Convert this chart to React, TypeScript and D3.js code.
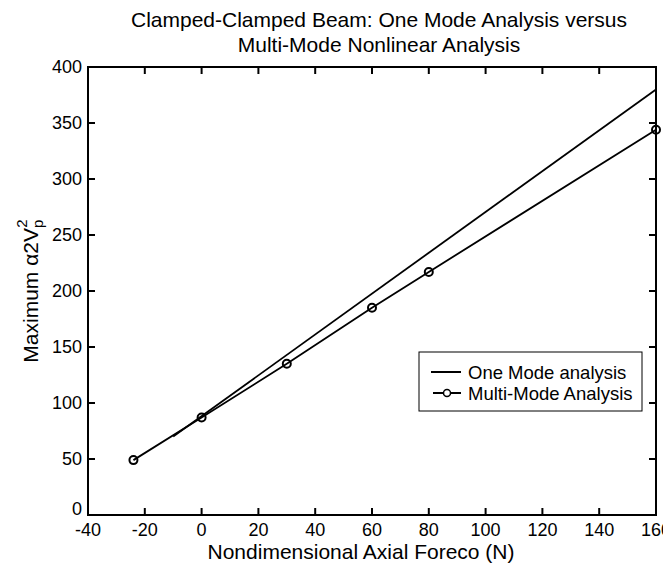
import * as React from "react";
import { useRef, useEffect } from "react";
import * as d3 from "d3";

const oneModeX = [-10, 160];
const oneModeY = [70, 380];
const multiModeX = [-24, 0, 30, 60, 80, 160];
const multiModeY = [49, 87, 135, 185, 217, 344];
const xTicks = [-40, -20, 0, 20, 40, 60, 80, 100, 120, 140, 160];
const yTicks = [0, 50, 100, 150, 200, 250, 300, 350, 400];

export default function App() {
  const svgRef = useRef<SVGSVGElement>(null);

  useEffect(() => {
    const W = 671;
    const H = 568;
    const margin = { top: 67, right: 15, bottom: 53, left: 88 };
    const width = W - margin.left - margin.right;
    const height = H - margin.top - margin.bottom;
    const font = "Liberation Sans, Arial, sans-serif";

    const svg = d3.select(svgRef.current).attr("width", W).attr("height", H);
    svg.selectAll("*").remove();
    svg.append("rect").attr("width", W).attr("height", H).attr("fill", "#fff");

    const g = svg
      .append("g")
      .attr("transform", `translate(${margin.left},${margin.top})`);

    const x = d3.scaleLinear().domain([-40, 160]).range([0, width]);
    const y = d3.scaleLinear().domain([0, 400]).range([height, 0]);

    // frame
    g.append("rect")
      .attr("width", width)
      .attr("height", height)
      .attr("fill", "none")
      .attr("stroke", "#000")
      .attr("stroke-width", 2);

    const tickLen = 7;
    // ticks point inward on all four sides
    xTicks.forEach((t) => {
      g.append("line")
        .attr("x1", x(t)).attr("x2", x(t))
        .attr("y1", height).attr("y2", height - tickLen)
        .attr("stroke", "#000").attr("stroke-width", 2);
      g.append("line")
        .attr("x1", x(t)).attr("x2", x(t))
        .attr("y1", 0).attr("y2", tickLen)
        .attr("stroke", "#000").attr("stroke-width", 2);
      g.append("text")
        .attr("x", x(t))
        .attr("y", height + 21)
        .attr("text-anchor", "middle")
        .attr("font-family", font)
        .attr("font-size", 18)
        .text(t);
    });
    yTicks.forEach((t) => {
      g.append("line")
        .attr("x1", 0).attr("x2", tickLen)
        .attr("y1", y(t)).attr("y2", y(t))
        .attr("stroke", "#000").attr("stroke-width", 2);
      g.append("line")
        .attr("x1", width).attr("x2", width - tickLen)
        .attr("y1", y(t)).attr("y2", y(t))
        .attr("stroke", "#000").attr("stroke-width", 2);
      g.append("text")
        .attr("x", -6)
        .attr("y", t === 0 ? y(t) - 6 : y(t))
        .attr("dy", "0.35em")
        .attr("text-anchor", "end")
        .attr("font-family", font)
        .attr("font-size", 18)
        .text(t);
    });

    const path = d3
      .line<[number, number]>()
      .x((d) => x(d[0]))
      .y((d) => y(d[1]));

    // one mode line
    g.append("path")
      .datum(oneModeX.map((v, i) => [v, oneModeY[i]] as [number, number]))
      .attr("fill", "none")
      .attr("stroke", "#000")
      .attr("stroke-width", 1.8)
      .attr("d", path);

    // multi mode line + markers
    const mm = multiModeX.map((v, i) => [v, multiModeY[i]] as [number, number]);
    g.append("path")
      .datum(mm)
      .attr("fill", "none")
      .attr("stroke", "#000")
      .attr("stroke-width", 1.8)
      .attr("d", path);
    g.selectAll("circle.mm")
      .data(mm)
      .enter()
      .append("circle")
      .attr("class", "mm")
      .attr("cx", (d) => x(d[0]))
      .attr("cy", (d) => y(d[1]))
      .attr("r", 4)
      .attr("fill", "none")
      .attr("stroke", "#000")
      .attr("stroke-width", 2);

    // legend
    const lx = 419 - margin.left;
    const ly = 352 - margin.top;
    const lg = g.append("g").attr("transform", `translate(${lx},${ly})`);
    lg.append("rect")
      .attr("width", 223)
      .attr("height", 59)
      .attr("fill", "#fff")
      .attr("stroke", "#000")
      .attr("stroke-width", 1);
    lg.append("line")
      .attr("x1", 12).attr("x2", 42)
      .attr("y1", 20).attr("y2", 20)
      .attr("stroke", "#000").attr("stroke-width", 2);
    lg.append("line")
      .attr("x1", 14).attr("x2", 42)
      .attr("y1", 41).attr("y2", 41)
      .attr("stroke", "#000").attr("stroke-width", 2);
    lg.append("circle")
      .attr("cx", 28).attr("cy", 41).attr("r", 3.5)
      .attr("fill", "#fff").attr("stroke", "#000").attr("stroke-width", 1.5);
    lg.append("text")
      .attr("x", 49).attr("y", 27)
      .attr("font-family", font).attr("font-size", 18.5)
      .text("One Mode analysis");
    lg.append("text")
      .attr("x", 49).attr("y", 48)
      .attr("font-family", font).attr("font-size", 18.5)
      .text("Multi-Mode Analysis");

    // titles
    svg.append("text")
      .attr("x", 379).attr("y", 27)
      .attr("text-anchor", "middle")
      .attr("font-family", font).attr("font-size", 21)
      .text("Clamped-Clamped Beam: One Mode Analysis versus");
    svg.append("text")
      .attr("x", 379).attr("y", 52)
      .attr("text-anchor", "middle")
      .attr("font-family", font).attr("font-size", 21)
      .text("Multi-Mode Nonlinear Analysis");

    svg.append("text")
      .attr("x", 361).attr("y", 559)
      .attr("text-anchor", "middle")
      .attr("font-family", font).attr("font-size", 21)
      .text("Nondimensional Axial Foreco (N)");

    const yl = svg.append("text")
      .attr("transform", `translate(38,${margin.top + height / 2}) rotate(-90)`)
      .attr("text-anchor", "middle")
      .attr("font-family", font).attr("font-size", 21);
    yl.append("tspan").text("Maximum α2V");
    yl.append("tspan").attr("font-size", 15).attr("dy", 5).text("p");
    yl.append("tspan").attr("font-size", 15).attr("dx", -8).attr("dy", -16).text("2");
  }, []);

  return (
    <div style={{ margin: -8 }}>
      <svg ref={svgRef}></svg>
    </div>
  );
}
